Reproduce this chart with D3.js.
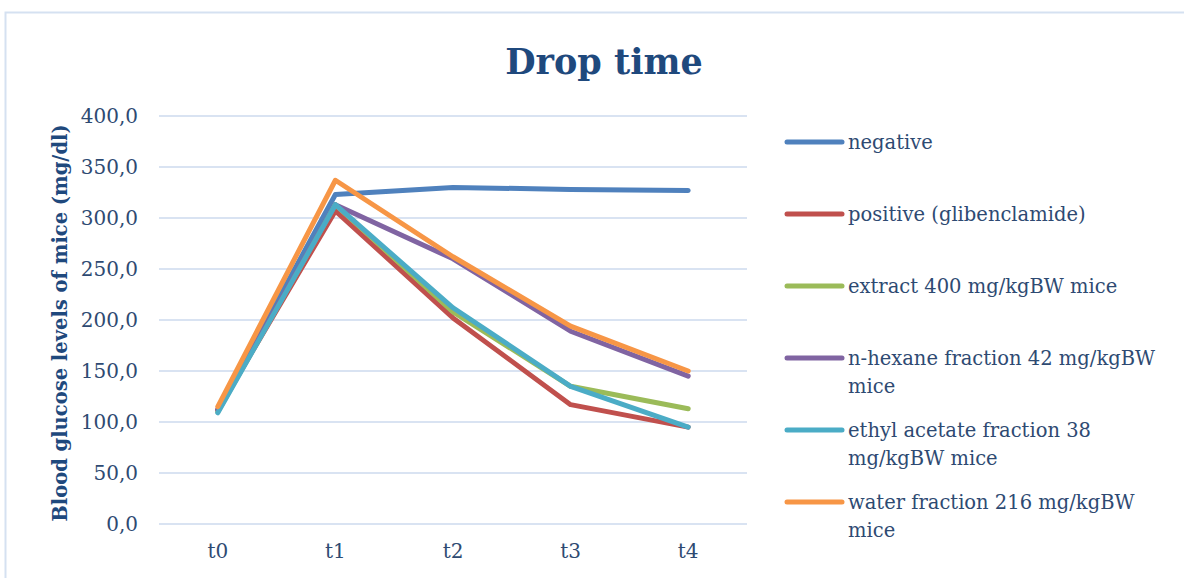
<!DOCTYPE html>
<html>
<head>
<meta charset="utf-8">
<script src="https://cdn.jsdelivr.net/npm/d3@7"></script>
<style>
  body { margin: 0; background: #fff; }
  text { font-family: "DejaVu Serif", serif; }
</style>
</head>
<body>
<svg id="chart" width="1184" height="578"></svg>
<script>
// categories and series
const times = ["t0", "t1", "t2", "t3", "t4"];
const negative = [112, 323, 330, 328, 327];
const positive = [112, 307, 202, 117, 95];
const extract400 = [110, 313, 208, 135, 113];
const nHexane = [112, 313, 260, 189, 145];
const ethylAcetate = [109, 313, 212, 135, 95];
const waterFraction = [115, 337, 262, 194, 150];
const yTicks = [0, 50, 100, 150, 200, 250, 300, 350, 400];

const series = [
    { name: ["negative"], values: negative, color: "#4F81BD" },
    { name: ["positive (glibenclamide)"], values: positive, color: "#C0504D" },
    { name: ["extract 400 mg/kgBW mice"], values: extract400, color: "#9BBB59" },
    { name: ["n-hexane fraction 42 mg/kgBW", "mice"], values: nHexane, color: "#8064A2" },
    { name: ["ethyl acetate fraction 38", "mg/kgBW mice"], values: ethylAcetate, color: "#4BACC6" },
    { name: ["water fraction 216 mg/kgBW", "mice"], values: waterFraction, color: "#F79646" }
];

let svg = d3.select("#chart");
const textColor = "#2E4A72";

// outer chart frame
svg.append("rect")
    .attr("x", 5.5).attr("y", 12.5)
    .attr("width", 1200).attr("height", 600)
    .attr("fill", "none")
    .attr("stroke", "#D5E1F1")
    .attr("stroke-width", 2);

svg.append("text")
    .attr("x", 604).attr("y", 74)
    .attr("text-anchor", "middle")
    .attr("font-size", 35)
    .attr("font-weight", "bold")
    .attr("fill", "#1F497D")
    .text("Drop time");

// scales
let xScale = d3.scaleBand()
    .domain(times)
    .range([159, 747]);
let yScale = d3.scaleLinear()
    .domain([0, 400])
    .range([524, 116]);

// gridlines
svg.append("g")
    .selectAll("line")
    .data(yTicks)
    .enter().append("line")
    .attr("x1", 159).attr("x2", 747)
    .attr("y1", d => yScale(d)).attr("y2", d => yScale(d))
    .attr("stroke", "#D9E3F2")
    .attr("stroke-width", 2);

// y axis labels
let yAxis = d3.axisLeft(yScale)
    .tickValues(yTicks)
    .tickSize(0)
    .tickPadding(0)
    .tickFormat(d => d.toFixed(1).replace(".", ","));
let yG = svg.append("g")
    .attr("transform", "translate(138,0)")
    .call(yAxis);
yG.select(".domain").remove();
yG.selectAll("text")
    .attr("font-size", 20)
    .attr("font-family", "DejaVu Serif, serif")
    .attr("fill", textColor);

// x axis labels
let xAxis = d3.axisBottom(xScale).tickSize(0).tickPadding(0);
let xG = svg.append("g")
    .attr("transform", "translate(0,544)")
    .call(xAxis);
xG.select(".domain").remove();
xG.selectAll("text")
    .attr("font-size", 20)
    .attr("font-family", "DejaVu Serif, serif")
    .attr("fill", textColor);

svg.append("text")
    .attr("transform", "translate(67,323) rotate(-90)")
    .attr("text-anchor", "middle")
    .attr("font-size", 19.5)
    .attr("font-weight", "bold")
    .attr("fill", "#1F497D")
    .text("Blood glucose levels of mice (mg/dl)");

// lines
let lineGen = d3.line()
    .x((d, i) => xScale(times[i]) + xScale.bandwidth() / 2)
    .y(d => yScale(d));

svg.append("g")
    .selectAll("path")
    .data(series)
    .enter().append("path")
    .attr("d", d => lineGen(d.values))
    .attr("fill", "none")
    .attr("stroke", d => d.color)
    .attr("stroke-width", 5)
    .attr("stroke-linejoin", "round")
    .attr("stroke-linecap", "round");

// legend
let legend = svg.append("g")
    .selectAll("g")
    .data(series)
    .enter().append("g")
    .attr("transform", (d, i) => "translate(787," + (142 + i * 72) + ")");

legend.append("line")
    .attr("x1", 0).attr("x2", 55)
    .attr("stroke", d => d.color)
    .attr("stroke-width", 5)
    .attr("stroke-linecap", "round");

legend.append("text")
    .attr("x", 61)
    .attr("y", 7)
    .attr("font-size", 19.5)
    .attr("fill", textColor)
    .selectAll("tspan")
    .data(d => d.name)
    .enter().append("tspan")
    .attr("x", 61)
    .attr("dy", (d, i) => i === 0 ? 0 : 28)
    .text(d => d);
</script>
</body>
</html>
